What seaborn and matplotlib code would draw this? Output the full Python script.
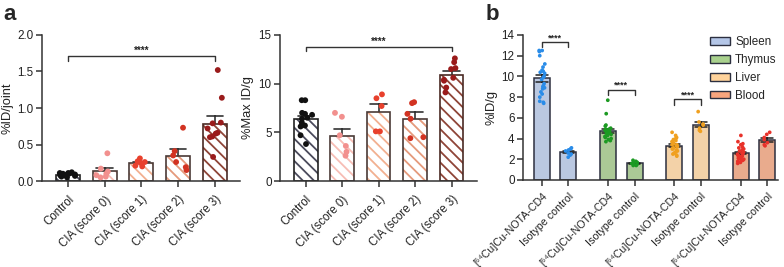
import numpy as np
import pandas as pd
import seaborn as sns
import matplotlib.pyplot as plt
from matplotlib.patches import Rectangle, Patch

sns.set_style("ticks")
plt.rcParams['font.family'] = ['Liberation Sans', 'DejaVu Sans']
plt.rcParams['hatch.linewidth'] = 1.3
np.random.seed(3)

# ---- panel a data ----
GROUPS = ["Control", "CIA (score 0)", "CIA (score 1)", "CIA (score 2)", "CIA (score 3)"]
JOINT_CONTROL = [0.10, 0.12, 0.08, 0.11, 0.07, 0.09, 0.06, 0.10, 0.08, 0.05, 0.11, 0.09]
JOINT_CIA0 = [0.38, 0.17, 0.13, 0.10, 0.08, 0.06, 0.05]
JOINT_CIA1 = [0.31, 0.27, 0.26, 0.25, 0.21, 0.20]
JOINT_CIA2 = [0.73, 0.41, 0.35, 0.26, 0.19, 0.15]
JOINT_CIA3 = [1.52, 1.14, 0.80, 0.79, 0.72, 0.66, 0.65, 0.61, 0.60, 0.33]

MAX_CONTROL = [8.3, 8.3, 7.0, 6.9, 6.8, 6.5, 6.4, 6.0, 5.7, 5.6, 4.7, 3.8]
MAX_CIA0 = [7.0, 6.6, 4.7, 3.6, 3.0, 2.6]
MAX_CIA1 = [8.9, 8.5, 7.7, 5.1, 5.1]
MAX_CIA2 = [8.0, 8.1, 6.9, 6.4, 4.5, 4.4]
MAX_CIA3 = [12.6, 12.2, 11.6, 11.5, 10.6, 10.4, 10.3, 9.6, 9.1]

HATCH_COLORS = ["#4b4b5c", "#f7bdb5", "#f2b090", "#e59a7c", "#8f4538"]
EDGE_COLORS = ["#222222", "#4a3a36", "#4a3a36", "#4a3a36", "#4a2a24"]
DOT_COLORS = ["#111111", "#f2908e", "#e8402c", "#d23322", "#9a1b1b"]

# ---- panel b data ----
ORGANS = ["Spleen", "Thymus", "Liver", "Blood"]
PROBES = ["[⁶⁴Cu]Cu-NOTA-CD4", "Isotype control"]
SPLEEN_CD4 = [12.5, 12.4, 12.5, 12.0, 11.2, 10.9, 10.6, 10.5, 10.4, 10.3, 10.0, 9.9,
              9.7, 9.3, 9.1, 9.0, 8.9, 8.8, 8.5, 8.3, 8.0, 7.6, 7.5, 7.4]
SPLEEN_ISO = [3.1, 3.0, 2.9, 2.8, 2.6, 2.5, 2.4, 2.2]
THYMUS_CD4 = [7.7, 6.4, 5.3, 5.2, 5.0, 4.9, 4.9, 4.8, 4.8, 4.7, 4.7, 4.6,
              4.6, 4.5, 4.5, 4.4, 4.3, 4.2, 4.2, 4.1, 4.0, 3.9, 3.8, 3.7]
THYMUS_ISO = [1.9, 1.8, 1.7, 1.6, 1.6, 1.5, 1.4, 1.4]
LIVER_CD4 = [4.6, 4.3, 4.1, 4.0, 3.9, 3.8, 3.7, 3.6, 3.5, 3.4, 3.4, 3.3,
             3.3, 3.2, 3.1, 3.0, 3.0, 2.9, 2.8, 2.7, 2.6, 2.5, 2.4, 2.3]
LIVER_ISO = [6.6, 5.6, 5.4, 5.3, 5.0, 4.8, 4.7]
BLOOD_CD4 = [4.3, 3.7, 3.5, 3.4, 3.2, 3.1, 3.0, 2.9, 2.8, 2.7, 2.6, 2.5,
             2.5, 2.4, 2.3, 2.3, 2.2, 2.1, 2.0, 2.0, 1.9, 1.8, 1.7, 1.6]
BLOOD_ISO = [4.6, 4.4, 4.1, 3.9, 3.6, 3.4, 3.3]

FACE_COLORS = ["#b4c6e7", "#a9d18e", "#ffd39b", "#f8a57e"]
DOT_COLORS_B = ["#2a8ce8", "#1c9a22", "#f0a020", "#e8322a"]

TXT = "#222222"


def style_axis(ax, fs):
    sns.despine(ax=ax)
    for s in ["left", "bottom"]:
        ax.spines[s].set_linewidth(1.1)
        ax.spines[s].set_color("#333333")
    ax.tick_params(direction="out", length=4, width=1.1, color="#333333",
                   labelsize=fs, labelcolor=TXT, pad=2)


def bracket(ax, x0, x1, y, drop, text, fs=8):
    ax.plot([x0, x0, x1, x1], [y - drop, y, y, y - drop], color="#333333", lw=1.0,
            clip_on=False)
    ax.text((x0 + x1) / 2, y, text, ha="center", va="bottom", fontsize=fs,
            color=TXT, fontweight="bold")


def panel_a(ax, values, ylabel, ylim, yticks, fmt, br_y, br_drop):
    df = pd.DataFrame([(g, v) for g, vals in zip(GROUPS, values) for v in vals],
                      columns=["group", "value"])
    sns.barplot(data=df, x="group", y="value", order=GROUPS, errorbar="se",
                capsize=0.45, width=0.65, color="white",
                err_kws={"color": "#333333", "linewidth": 1.2, "zorder": 0.5}, ax=ax)
    bars = list(ax.patches)
    for bar, hc, ec in zip(bars, HATCH_COLORS, EDGE_COLORS):
        bar.set_facecolor("white")
        bar.set_edgecolor(hc)
        bar.set_linewidth(0)
        bar.set_hatch("\\\\\\")
        ax.add_patch(Rectangle(bar.get_xy(), bar.get_width(), bar.get_height(),
                               fill=False, edgecolor=ec, lw=1.2, zorder=1.5))
    sns.stripplot(data=df, x="group", y="value", hue="group", order=GROUPS,
                  hue_order=GROUPS, palette=DOT_COLORS, size=4.2, jitter=0.24,
                  legend=False, ax=ax, zorder=3)
    ax.set_xlim(-0.71, 4.69)
    ax.set_ylim(*ylim)
    ax.set_yticks(yticks)
    ax.set_yticklabels([fmt.format(t) for t in yticks])
    ax.set_xlabel("")
    ax.set_ylabel(ylabel, fontsize=9.3, color=TXT, labelpad=3)
    style_axis(ax, 8.4)
    ax.set_xticks(range(len(GROUPS)))
    ax.set_xticklabels(GROUPS, rotation=45, ha="right", rotation_mode="anchor",
                       fontsize=8.3)
    ax.tick_params(axis="x", pad=5)
    bracket(ax, 0, 4, br_y, br_drop, "****", fs=7)


fig = plt.figure(figsize=(7.84, 2.67), dpi=100)
ax1 = fig.add_axes([0.0536, 0.322, 0.2526, 0.547])
ax2 = fig.add_axes([0.357, 0.322, 0.251, 0.547])
ax3 = fig.add_axes([0.667, 0.326, 0.325, 0.543])

panel_a(ax1, [JOINT_CONTROL, JOINT_CIA0, JOINT_CIA1, JOINT_CIA2, JOINT_CIA3],
        "%ID/joint", (0, 2.0), [0, 0.5, 1.0, 1.5, 2.0], "{:.1f}", 1.71, 0.06)
panel_a(ax2, [MAX_CONTROL, MAX_CIA0, MAX_CIA1, MAX_CIA2, MAX_CIA3],
        "%Max ID/g", (0, 15), [0, 5, 10, 15], "{:.0f}", 13.8, 0.45)

# ---- panel b ----
organ_data = [(SPLEEN_CD4, SPLEEN_ISO), (THYMUS_CD4, THYMUS_ISO),
              (LIVER_CD4, LIVER_ISO), (BLOOD_CD4, BLOOD_ISO)]
rows = []
for organ, pair in zip(ORGANS, organ_data):
    for probe, vals in zip(PROBES, pair):
        rows += [(organ, probe, v) for v in vals]
dfb = pd.DataFrame(rows, columns=["organ", "probe", "value"])

for organ, face, dot in zip(ORGANS, FACE_COLORS, DOT_COLORS_B):
    sub = dfb[dfb.organ == organ]
    sns.barplot(data=sub, x="organ", y="value", hue="probe", order=ORGANS,
                hue_order=PROBES, palette=[face, face], errorbar="se", capsize=0.35,
                width=0.8, gap=0.39, edgecolor="#2c2f3f", linewidth=1.1,
                err_kws={"color": "#222222", "linewidth": 1.1}, legend=False, ax=ax3)
    sns.stripplot(data=sub, x="organ", y="value", hue="probe", order=ORGANS,
                  hue_order=PROBES, dodge=True, palette=[dot, dot], size=2.7,
                  jitter=0.1, legend=False, ax=ax3, zorder=3)

bar_x = sorted(p.get_x() + p.get_width() / 2 for p in ax3.patches)
ax3.set_xlim(-0.485, 3.36)
ax3.set_ylim(0, 14)
ax3.set_yticks(range(0, 15, 2))
ax3.set_xlabel("")
ax3.set_ylabel("%ID/g", fontsize=9.3, color=TXT, labelpad=3)
style_axis(ax3, 8.4)
ax3.set_xticks(bar_x)
ax3.set_xticklabels(PROBES * len(ORGANS), rotation=45, ha="right",
                    rotation_mode="anchor", fontsize=7.7)
ax3.tick_params(axis="x", pad=4)

bracket(ax3, bar_x[0], bar_x[1], 13.3, 0.5, "****", fs=6.5)
bracket(ax3, bar_x[2], bar_x[3], 8.7, 0.5, "****", fs=6.5)
bracket(ax3, bar_x[4], bar_x[5], 7.8, 0.55, "****", fs=6.5)

handles = [Patch(facecolor=c, edgecolor="#2c2f3f", linewidth=1.0) for c in FACE_COLORS]
ax3.legend(handles, ORGANS, loc="upper right", bbox_to_anchor=(1.0, 1.0),
           frameon=False, fontsize=8.4, handlelength=1.75, handleheight=0.65,
           labelspacing=0.5, handletextpad=0.4, borderaxespad=0.0, borderpad=0.1)

fig.text(0.004, 0.985, "a", fontsize=16, fontweight="bold", va="top", ha="left")
fig.text(0.619, 0.985, "b", fontsize=16, fontweight="bold", va="top", ha="left")

fig.savefig("out.png", dpi=100)
